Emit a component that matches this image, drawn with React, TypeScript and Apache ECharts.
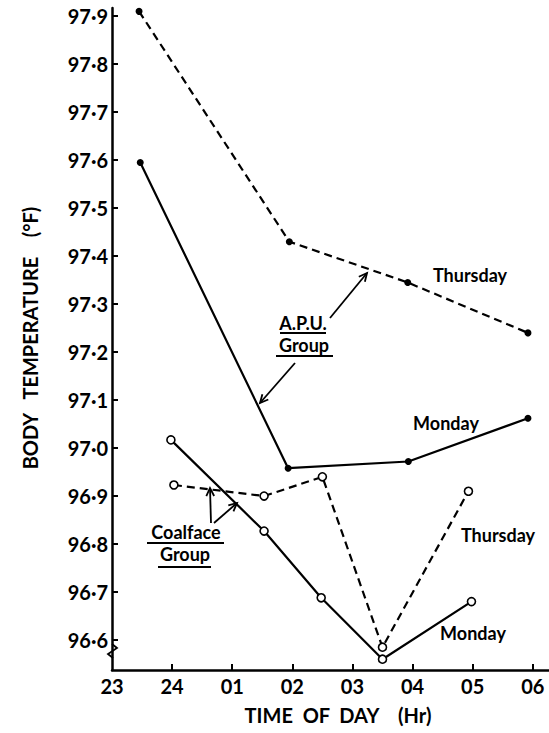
import React, { useEffect, useRef } from "react";
import * as echarts from "echarts";

// hours after 23:00
const hourTicks = [0, 1, 2, 3, 4, 5, 6, 7];
const hourLabels = ["23", "24", "01", "02", "03", "04", "05", "06"];
const tempTicks = [96.6, 96.7, 96.8, 96.9, 97.0, 97.1, 97.2, 97.3, 97.4, 97.5, 97.6, 97.7, 97.8, 97.9];

const apuThursdayHours = [0.45, 2.95, 4.92, 6.92];
const apuThursdayTemps = [97.91, 97.43, 97.345, 97.24];

const apuMondayHours = [0.47, 2.93, 4.93, 6.92];
const apuMondayTemps = [97.595, 96.958, 96.972, 97.062];

const coalMondayHours = [0.98, 2.53, 3.48, 4.5, 5.98];
const coalMondayTemps = [97.017, 96.827, 96.688, 96.56, 96.68];

const coalThursdayHours = [1.03, 2.53, 3.5, 4.5, 5.93];
const coalThursdayTemps = [96.923, 96.9, 96.94, 96.585, 96.91];

const FONT = "Lato";

function pairs(xs: number[], ys: number[]) {
  return xs.map((x, i) => [x, ys[i]]);
}

function arrow(x1: number, y1: number, x2: number, y2: number) {
  const ang = Math.atan2(y2 - y1, x2 - x1);
  const L = 9;
  const a = 0.45;
  const w1 = [x2 - L * Math.cos(ang - a), y2 - L * Math.sin(ang - a)];
  const w2 = [x2 - L * Math.cos(ang + a), y2 - L * Math.sin(ang + a)];
  return [
    { type: "line", shape: { x1, y1, x2, y2 }, style: { stroke: "#000", lineWidth: 1.8 } },
    { type: "polyline", shape: { points: [w1, [x2, y2], w2] }, style: { stroke: "#000", lineWidth: 1.8, fill: null } },
  ];
}

function label(text: string, x: number, y: number, size = 18) {
  return {
    type: "text",
    x,
    y,
    style: { text, fill: "#000", font: `bold ${size}px ${FONT}`, align: "center", verticalAlign: "middle" },
  };
}

function hline(x1: number, x2: number, y: number) {
  return { type: "line", shape: { x1, y1: y, x2, y2: y }, style: { stroke: "#000", lineWidth: 1.8 } };
}

export default function App() {
  const ref = useRef<HTMLDivElement>(null);
  useEffect(() => {
    if (!ref.current) return;
    const chart = echarts.init(ref.current, null, { renderer: "svg" });
    const solid = { color: "#000", width: 2.2, type: "solid" as const };
    const dashed = { color: "#000", width: 2.2, type: [8, 5] as any };
    const filled = { color: "#000", borderColor: "#000", borderWidth: 0 };
    const open = { color: "#fff", borderColor: "#000", borderWidth: 1.6 };
    chart.setOption({
      animation: false,
      backgroundColor: "#fff",
      grid: { left: 112, right: 0, top: 8, bottom: 63, containLabel: false, outerBoundsMode: "none" },
      xAxis: {
        type: "value",
        min: 0,
        max: 7.27,
        axisLine: { lineStyle: { color: "#000", width: 2.5 } },
        axisTick: { inside: true, length: 6, lineStyle: { color: "#000", width: 2 }, customValues: hourTicks.slice(1) },
        axisLabel: {
          customValues: hourTicks,
          formatter: (v: number) => hourLabels[Math.round(v)] ?? "",
          color: "#000",
          fontFamily: FONT,
          fontWeight: "bold",
          fontSize: 20,
          margin: 6,
        },
        splitLine: { show: false },
      },
      yAxis: {
        type: "value",
        min: 96.5375,
        max: 97.917,
        axisLine: { lineStyle: { color: "#000", width: 2.5 } },
        axisTick: { inside: true, length: 6, lineStyle: { color: "#000", width: 2 }, customValues: tempTicks },
        axisLabel: {
          customValues: tempTicks,
          formatter: (v: number) => v.toFixed(1).replace(".", "·"),
          color: "#000",
          fontFamily: FONT,
          fontWeight: "bold",
          fontSize: 20,
          margin: 4,
        },
        splitLine: { show: false },
      },
      series: [
        {
          name: "A.P.U. Thursday",
          type: "line",
          data: pairs(apuThursdayHours, apuThursdayTemps),
          lineStyle: dashed,
          symbol: "circle",
          symbolSize: 7,
          itemStyle: filled,
        },
        {
          name: "A.P.U. Monday",
          type: "line",
          data: pairs(apuMondayHours, apuMondayTemps),
          lineStyle: solid,
          symbol: "circle",
          symbolSize: 7,
          itemStyle: filled,
        },
        {
          name: "Coalface Thursday",
          type: "line",
          data: pairs(coalThursdayHours, coalThursdayTemps),
          lineStyle: dashed,
          symbol: "circle",
          symbolSize: 8,
          itemStyle: open,
          z: 3,
        },
        {
          name: "Coalface Monday",
          type: "line",
          data: pairs(coalMondayHours, coalMondayTemps),
          lineStyle: solid,
          symbol: "circle",
          symbolSize: 8,
          itemStyle: open,
          z: 4,
        },
      ],
      graphic: [
        {
          type: "text",
          x: 30,
          y: 338,
          rotation: Math.PI / 2,
          style: {
            text: "BODY   TEMPERATURE    (°F)",
            fill: "#000",
            font: `bold 20px ${FONT}`,
            align: "center",
            verticalAlign: "middle",
          },
        },
        {
          type: "text",
          x: 338,
          y: 715,
          style: {
            text: "TIME  OF  DAY    (Hr)",
            fill: "#000",
            font: `bold 20px ${FONT}`,
            align: "center",
            verticalAlign: "middle",
          },
        },
        label("Thursday", 470, 275),
        label("Monday", 446, 423),
        label("Thursday", 498, 535),
        label("Monday", 473, 633),
        label("A.P.U.", 303, 323),
        hline(280, 326, 333),
        label("Group", 304, 345),
        hline(276, 333, 356),
        label("Coalface", 186, 532),
        hline(147, 224, 543),
        label("Group", 185, 554),
        hline(158, 211, 567),
        ...arrow(330, 318, 367, 273),
        ...arrow(295, 363, 260, 403),
        ...arrow(211, 523, 210, 488),
        ...arrow(214, 523, 237, 503),
        {
          type: "polyline",
          shape: { points: [[112, 644], [117, 648], [108, 654], [113, 658]] },
          style: { stroke: "#000", lineWidth: 1.8, fill: null },
          z: 10,
        },
      ],
    });
    return () => chart.dispose();
  }, []);
  return <div ref={ref} style={{ position: "fixed", left: 0, top: 0, width: 549, height: 733 }} />;
}
